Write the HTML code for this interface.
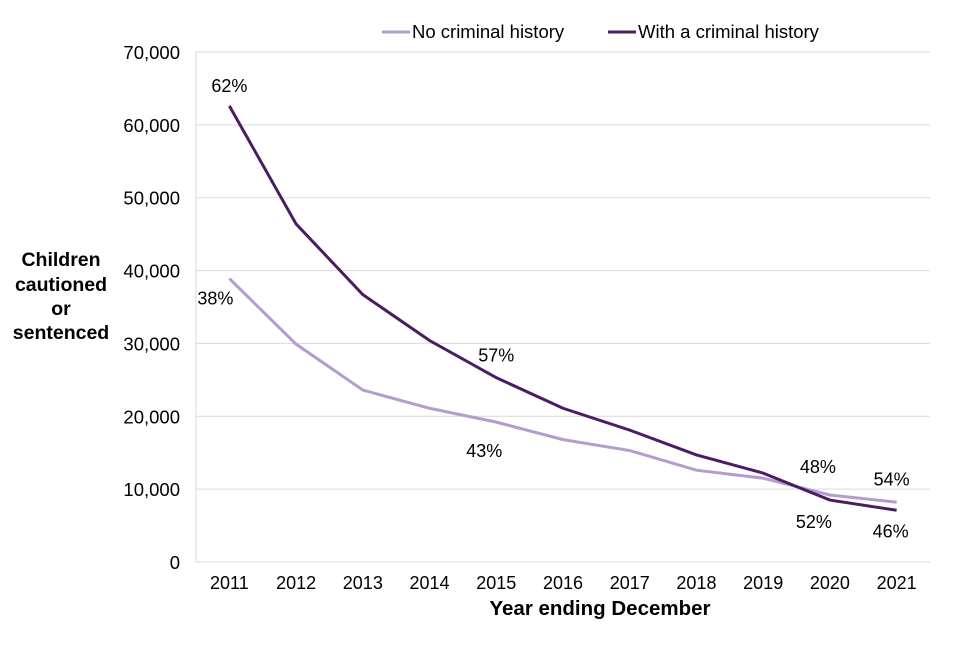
<!DOCTYPE html>
<html><head><meta charset="utf-8"><style>
body{margin:0;background:#fff;font-family:"Liberation Sans",Arial,sans-serif}
svg text{font-family:"Liberation Sans",Arial,sans-serif}
</style></head><body>
<svg id="chart" width="960" height="640"></svg>
<script>
const years=["2011","2012","2013","2014","2015","2016","2017","2018","2019","2020","2021"];
const noHistory=[38900,29900,23600,21100,19200,16800,15300,12600,11500,9200,8200];
const withHistory=[62600,46400,36700,30400,25300,21100,18100,14700,12200,8500,7100];
const yTicks=[0,10000,20000,30000,40000,50000,60000,70000];
const pctLabels=[
 {s:"with",i:0,t:"62%",dx:0,dy:-14},
 {s:"no",i:0,t:"38%",dx:-14,dy:26},
 {s:"with",i:4,t:"57%",dx:0,dy:-16},
 {s:"no",i:4,t:"43%",dx:-12,dy:35},
 {s:"no",i:9,t:"48%",dx:-12,dy:-22},
 {s:"with",i:9,t:"52%",dx:-16,dy:28},
 {s:"no",i:10,t:"54%",dx:-5,dy:-17},
 {s:"with",i:10,t:"46%",dx:-6,dy:27}
];
const NS="http://www.w3.org/2000/svg";
const svg=document.getElementById('chart');
const x0=196,x1=930,y0=562,y1=52;
const xs=i=>x0+(x1-x0)*(i+0.5)/years.length;
const ys=v=>y0-(y0-y1)*v/70000;
function el(tag,attrs,txt){const e=document.createElementNS(NS,tag);for(const k in attrs)e.setAttribute(k,attrs[k]);if(txt!=null)e.textContent=txt;svg.appendChild(e);return e;}
yTicks.forEach(v=>{
 if(v>0){const g=el('line',{x1:x0,x2:x1,y1:ys(v),y2:ys(v),stroke:'#d9d9d9','stroke-width':1});
 
 }
 const t=el('text',{x:180,y:ys(v)+7,'text-anchor':'end','font-size':18.5,fill:'#000'},v.toLocaleString('en-US'));
 
 
});
const ay=el('line',{x1:x0,x2:x0,y1:y1,y2:y0,stroke:'#d9d9d9','stroke-width':1});


const ax=el('line',{x1:x0,x2:x1,y1:y0,y2:y0,stroke:'#d9d9d9','stroke-width':1});


years.forEach((y,i)=>{
 const t=el('text',{x:xs(i),y:589,'text-anchor':'middle','font-size':18},y);
 
 
});
function series(data,color,name){
 const p=el('polyline',{points:data.map((v,i)=>xs(i)+','+ys(v)).join(' '),fill:'none',stroke:color,'stroke-width':3});
 
 
}
series(noHistory,'#b29dcc','line-no-criminal-history');
series(withHistory,'#4b1c63','line-with-criminal-history');
pctLabels.forEach(l=>{
 const d=l.s==='with'?withHistory:noHistory;
 const t=el('text',{x:xs(l.i)+l.dx,y:ys(d[l.i])+l.dy,'text-anchor':'middle','font-size':18},l.t);
 
 
});
const yt=el('text',{'text-anchor':'middle','font-size':19.5,'font-weight':'bold'});


[["Children",266],["cautioned",291],["or",315],["sentenced",339]].forEach(([s,y])=>{const ts=document.createElementNS(NS,'tspan');ts.setAttribute('x',61);ts.setAttribute('y',y);ts.textContent=s;yt.appendChild(ts);});
const xt=el('text',{x:600,y:615,'text-anchor':'middle','font-size':20.5,'font-weight':'bold'},'Year ending December');


const l1=el('line',{x1:382,x2:410,y1:32,y2:32,stroke:'#b29dcc','stroke-width':3});


const lt1=el('text',{x:412,y:38,'font-size':18.5},'No criminal history');


const l2=el('line',{x1:608,x2:636,y1:32,y2:32,stroke:'#4b1c63','stroke-width':3});


const lt2=el('text',{x:638,y:38,'font-size':18.5},'With a criminal history');


</script>
</body></html>
